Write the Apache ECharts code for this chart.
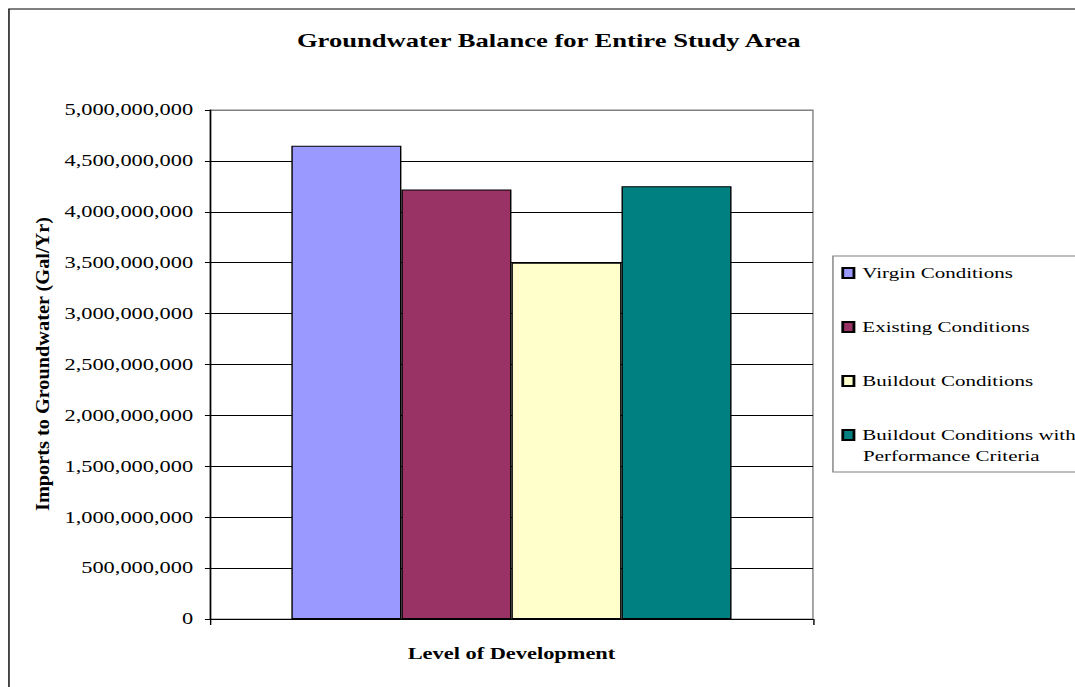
<!DOCTYPE html>
<html>
<head>
<meta charset="utf-8">
<script src="https://cdn.jsdelivr.net/npm/echarts@6/dist/echarts.min.js"></script>
<style>
  html, body { margin: 0; padding: 0; background: #fff; overflow: hidden; }
  /* the reference text is drawn wide, so the chart is laid out narrow and stretched */
  #chart { width: 768px; height: 687px; transform: scaleX(1.3997); transform-origin: 0 0; }
</style>
</head>
<body>
<div id="chart"></div>
<script>
const categories = ['']
const seriesNames = ['Virgin Conditions', 'Existing Conditions', 'Buildout Conditions', 'Buildout Conditions with']
const seriesValues = [[4650000000], [4220000000], [3500000000], [4250000000]]
const seriesColors = ['#9999FF', '#993366', '#FFFFCC', '#008080']
const yTicks = [0, 500000000, 1000000000, 1500000000, 2000000000, 2500000000, 3000000000, 3500000000, 4000000000, 4500000000, 5000000000]

const font = "'Liberation Serif', 'Times New Roman', serif"
const chart = echarts.init(document.getElementById('chart'), null, { renderer: 'svg' })

// split lines are black, the top one doubles as the grey plot frame
const splitColors = yTicks.map((v, i) => (i === yTicks.length - 1 ? '#808080' : '#000'))

const option = {
  animation: false,
  backgroundColor: '#fff',
  textStyle: { fontFamily: font, color: '#000' },
  title: {
    text: 'Groundwater Balance for Entire Study Area',
    left: 387,
    textAlign: 'center',
    top: 26,
    textStyle: { fontFamily: font, fontSize: 19, fontWeight: 'bold', color: '#000' }
  },
  graphic: [
    {
      type: 'rect',
      shape: { x: 6.4, y: 9, width: 800, height: 700 },
      style: { fill: 'none', stroke: '#000', lineWidth: 1 },
      silent: true
    },
    {
      type: 'text',
      x: 30.2,
      y: 364,
      rotation: Math.PI / 2,
      scaleX: 1.45,
      silent: true,
      style: {
        text: 'Imports to Groundwater (Gal/Yr)',
        font: 'bold 14px ' + font,
        fill: '#000',
        textAlign: 'center',
        textVerticalAlign: 'middle'
      }
    },
    {
      type: 'text',
      x: 616.6,
      y: 456,
      silent: true,
      style: {
        text: 'Performance Criteria',
        font: '15px ' + font,
        fill: '#000',
        textAlign: 'left',
        textVerticalAlign: 'middle'
      }
    }
  ],
  legend: {
    orient: 'vertical',
    left: 595.1,
    top: 256,
    padding: [7, 60, 27, 6],
    borderColor: '#808080',
    borderWidth: 1,
    itemGap: 34,
    itemWidth: 8,
    itemHeight: 10,
    icon: 'rect',
    textStyle: { fontFamily: font, fontSize: 15, color: '#000', lineHeight: 20, padding: [0, 0, 0, 1] }
  },
  grid: {
    left: 150,
    right: 187.2,
    top: 110,
    bottom: 68,
    show: true,
    borderColor: '#808080',
    borderWidth: 1
  },
  xAxis: {
    type: 'category',
    data: categories,
    name: 'Level of Development',
    nameLocation: 'middle',
    nameGap: 27,
    nameTextStyle: { fontFamily: font, fontSize: 16, fontWeight: 'bold', color: '#000' },
    axisLine: { lineStyle: { color: '#000' } },
    axisTick: { show: true, length: 6, lineStyle: { color: '#000' } },
    axisLabel: { show: false }
  },
  yAxis: {
    type: 'value',
    min: yTicks[0],
    max: yTicks[yTicks.length - 1],
    interval: yTicks[1] - yTicks[0],
    axisLine: { show: true, lineStyle: { color: '#000' } },
    axisTick: { show: true, length: 3.6, lineStyle: { color: '#000' } },
    axisLabel: {
      fontFamily: font,
      fontSize: 16,
      color: '#000',
      margin: 12,
      formatter: (v) => v.toLocaleString('en-US')
    },
    splitLine: { show: true, lineStyle: { color: splitColors, width: 1 } }
  },
  series: seriesNames.map((name, i) => ({
    name,
    type: 'bar',
    data: seriesValues[i],
    barGap: '0%',
    barCategoryGap: '27%',
    itemStyle: { color: seriesColors[i], borderColor: '#000', borderWidth: 1 }
  }))
}

chart.setOption(option)
</script>
</body>
</html>
